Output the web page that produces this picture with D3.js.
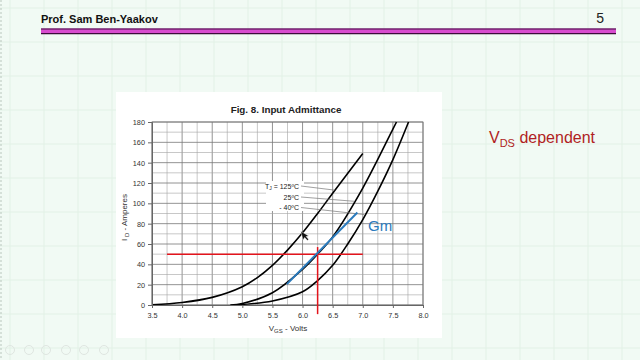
<!DOCTYPE html>
<html>
<head>
<meta charset="utf-8">
<script src="https://cdn.jsdelivr.net/npm/d3@7"></script>
<style>
  html, body { margin: 0; padding: 0; background: #f1faf4; }
  svg { display: block; font-family: "Liberation Sans", Arial, sans-serif; }
</style>
</head>
<body>
<svg id="chart" width="640" height="360"></svg>
<script>
// V_GS (volts) and I_D (amperes), one pair of arrays per temperature
const vgs125 = [3.5, 4.0, 4.5, 5.0, 5.25, 5.5, 5.75, 6.0, 6.25, 6.5, 7.0];
const id125 = [0.3, 2.5, 7.5, 18, 27, 39, 54, 71, 90, 110, 149];

const vgs25 = [4.8, 5.0, 5.5, 6.0, 6.25, 6.5, 7.0, 7.5, 7.56];
const id25 = [0, 1.5, 12, 35, 50, 67, 115, 173, 180];

const vgsM40 = [4.9, 5.5, 6.0, 6.25, 6.5, 6.75, 7.0, 7.25, 7.5, 7.76];
const idM40 = [0, 4, 13, 24, 39, 60, 84, 112, 143, 180];

const xTicks = [3.5, 4.0, 4.5, 5.0, 5.5, 6.0, 6.5, 7.0, 7.5, 8.0];
const yTicks = [0, 20, 40, 60, 80, 100, 120, 140, 160, 180];

// operating point and tangent (Gm) on the 25°C curve
const opPoint = { vgs: 6.25, id: 50 };
const hLine = { from: 3.75, to: 7.0 };
const vLine = { from: -9, to: 57 };
const gmLine = [[5.74, 20.5], [6.91, 91]];

// label leader lines: [label, curve point vgs, curve point id]
const labels = [
  ["125", 6.53, 113],
  ["25", 6.86, 102],
  ["-40", 7.02, 89]
];

const svg = d3.select("#chart");
const W = 640, H = 360;

// slide background grid
const bg = svg.append("g");
bg.append("rect").attr("width", W).attr("height", H).attr("fill", "#f1faf4");
d3.range(0, W, 34).forEach(gx => {
  bg.append("line").attr("x1", gx + 10).attr("x2", gx + 10).attr("y1", 0).attr("y2", H)
    .attr("stroke", "#e2f1e6").attr("stroke-width", 1);
});
d3.range(0, H, 34).forEach(gy => {
  bg.append("line").attr("x1", 0).attr("x2", W).attr("y1", gy + 8).attr("y2", gy + 8)
    .attr("stroke", "#e2f1e6").attr("stroke-width", 1);
});
bg.append("line").attr("x1", 1).attr("x2", 1).attr("y1", 0).attr("y2", H)
  .attr("stroke", "#b9c6bd").attr("stroke-dasharray", "2,2");

// header
svg.append("text").attr("x", 41).attr("y", 23).attr("font-size", 11).attr("font-weight", "bold")
  .attr("fill", "#111").text("Prof. Sam Ben-Yaakov");
svg.append("text").attr("x", 604).attr("y", 23).attr("font-size", 14).attr("text-anchor", "end")
  .attr("fill", "#222").text("5");
svg.append("rect").attr("x", 41).attr("y", 28.5).attr("width", 575).attr("height", 5.5).attr("fill", "#d84ccf");
svg.append("line").attr("x1", 41).attr("x2", 616).attr("y1", 29).attr("y2", 29).attr("stroke", "#3d0b3b").attr("stroke-width", 1.2);
svg.append("line").attr("x1", 41).attr("x2", 616).attr("y1", 33.6).attr("y2", 33.6).attr("stroke", "#3d0b3b").attr("stroke-width", 1.4);

// white chart panel
svg.append("rect").attr("x", 116).attr("y", 92).attr("width", 326).attr("height", 246).attr("fill", "#ffffff");

const x = d3.scaleLinear().domain([3.5, 8]).range([152, 423]);
const y = d3.scaleLinear().domain([0, 180]).range([305, 122]);

const plot = svg.append("g");

// minor + major grid
d3.range(3.5, 8.001, 0.25).forEach(v => {
  const major = Math.abs((v * 2) - Math.round(v * 2)) < 1e-6;
  plot.append("line").attr("x1", x(v)).attr("x2", x(v)).attr("y1", y(0)).attr("y2", y(180))
    .attr("stroke", major ? "#777" : "#a3a3a3").attr("stroke-width", major ? 0.8 : 0.6);
});
d3.range(0, 180.001, 10).forEach(v => {
  const major = v % 20 === 0;
  plot.append("line").attr("x1", x(3.5)).attr("x2", x(8)).attr("y1", y(v)).attr("y2", y(v))
    .attr("stroke", major ? "#777" : "#a3a3a3").attr("stroke-width", major ? 0.8 : 0.6);
});
plot.append("rect").attr("x", x(3.5)).attr("y", y(180)).attr("width", x(8) - x(3.5)).attr("height", y(0) - y(180))
  .attr("fill", "none").attr("stroke", "#777").attr("stroke-width", 0.8);

// axes
const xAxis = svg.append("g").attr("transform", `translate(0,${y(0)})`)
  .call(d3.axisBottom(x).tickValues(xTicks).tickFormat(d3.format(".1f")).tickSize(3));
const yAxis = svg.append("g").attr("transform", `translate(${x(3.5)},0)`)
  .call(d3.axisLeft(y).tickValues(yTicks).tickSize(4));
[xAxis, yAxis].forEach(a => {
  a.select(".domain").attr("stroke", "#666");
  a.selectAll(".tick line").attr("stroke", "#666");
  a.selectAll("text").attr("font-size", 7.3).attr("fill", "#333").attr("font-family", "Liberation Sans, Arial, sans-serif");
});
xAxis.selectAll("text").attr("dy", "0.9em");

// titles
svg.append("text").attr("x", 286).attr("y", 113).attr("text-anchor", "middle")
  .attr("font-size", 9.8).attr("font-weight", "bold").attr("fill", "#222").text("Fig. 8. Input Admittance");

const xt = svg.append("text").attr("x", 288).attr("y", 331).attr("text-anchor", "middle")
  .attr("font-size", 8).attr("fill", "#333");
xt.append("tspan").text("V");
xt.append("tspan").attr("font-size", 6).attr("dy", 2).text("GS");
xt.append("tspan").attr("dy", -2).text(" - Volts");

const yt = svg.append("text").attr("transform", `translate(127,${(y(0) + y(180)) / 2 + 4}) rotate(-90)`)
  .attr("text-anchor", "middle").attr("font-size", 8).attr("fill", "#333");
yt.append("tspan").text("I");
yt.append("tspan").attr("font-size", 6).attr("dy", 2).text(" D");
yt.append("tspan").attr("dy", -2).text(" - Amperes");

// curves
const line = d3.line().x(d => x(d[0])).y(d => y(d[1])).curve(d3.curveCatmullRom.alpha(0.5));
[[vgs125, id125], [vgs25, id25], [vgsM40, idM40]].forEach(([vs, is]) => {
  plot.append("path").datum(vs.map((v, i) => [v, is[i]]))
    .attr("d", line).attr("fill", "none").attr("stroke", "#000").attr("stroke-width", 1.6);
});

// label box and leader lines
const lx = 299;
svg.append("rect").attr("x", 266).attr("y", 181).attr("width", 38).attr("height", 30).attr("fill", "#fff");
const labelY = [186, 197, 207.5];
labels.forEach(([t, v, i], k) => {
  svg.append("line").attr("x1", lx + 2).attr("y1", labelY[k]).attr("x2", x(v)).attr("y2", y(i))
    .attr("stroke", "#777").attr("stroke-width", 0.7);
});
const t1 = svg.append("text").attr("x", lx).attr("y", labelY[0] + 2.5).attr("text-anchor", "end")
  .attr("font-size", 7).attr("fill", "#222");
t1.append("tspan").text("T");
t1.append("tspan").attr("font-size", 5).attr("dy", 1.5).text("J");
t1.append("tspan").attr("dy", -1.5).text(" = 125ºC");
svg.append("text").attr("x", lx).attr("y", labelY[1] + 2.5).attr("text-anchor", "end")
  .attr("font-size", 7).attr("fill", "#222").text("25ºC");
svg.append("text").attr("x", lx).attr("y", labelY[2] + 2.5).attr("text-anchor", "end")
  .attr("font-size", 7).attr("fill", "#222").text("- 40ºC");

// operating point lines
svg.append("line").attr("x1", x(hLine.from)).attr("x2", x(hLine.to)).attr("y1", y(opPoint.id)).attr("y2", y(opPoint.id))
  .attr("stroke", "#e3141c").attr("stroke-width", 1.5);
svg.append("line").attr("x1", x(opPoint.vgs)).attr("x2", x(opPoint.vgs)).attr("y1", y(vLine.from)).attr("y2", y(vLine.to))
  .attr("stroke", "#e3141c").attr("stroke-width", 1.5);

// Gm tangent
svg.append("line").attr("x1", x(gmLine[0][0])).attr("y1", y(gmLine[0][1]))
  .attr("x2", x(gmLine[1][0])).attr("y2", y(gmLine[1][1]))
  .attr("stroke", "#2b7bbd").attr("stroke-width", 2);
svg.append("text").attr("x", 368).attr("y", 231).attr("font-size", 15).attr("fill", "#2b7bbd").text("Gm");

// mouse cursor, tip up-left
const cx = x(5.97) , cy = y(72.5);
svg.append("path")
  .attr("d", `M${cx},${cy} L${cx},${cy + 9} L${cx + 2.2},${cy + 7} L${cx + 4},${cy + 10.5} L${cx + 5.5},${cy + 9.8} L${cx + 3.8},${cy + 6.5} L${cx + 6.5},${cy + 6.5} Z`)
  .attr("fill", "#111").attr("stroke", "#fff").attr("stroke-width", 0.4)
  .attr("transform", `rotate(-15,${cx},${cy})`);

// side note
const vn = svg.append("text").attr("x", 489).attr("y", 143).attr("font-size", 16).attr("fill", "#b01e23");
vn.append("tspan").text("V");
vn.append("tspan").attr("font-size", 11).attr("dy", 4).text("DS");
vn.append("tspan").attr("dy", -4).text(" dependent");

// faint toolbar icons bottom-left
[10, 29, 46, 66, 84, 104].forEach(ix => {
  svg.append("circle").attr("cx", ix).attr("cy", 350).attr("r", 4.5)
    .attr("fill", "none").attr("stroke", "#dfe6e1").attr("stroke-width", 1);
});
</script>
</body>
</html>
